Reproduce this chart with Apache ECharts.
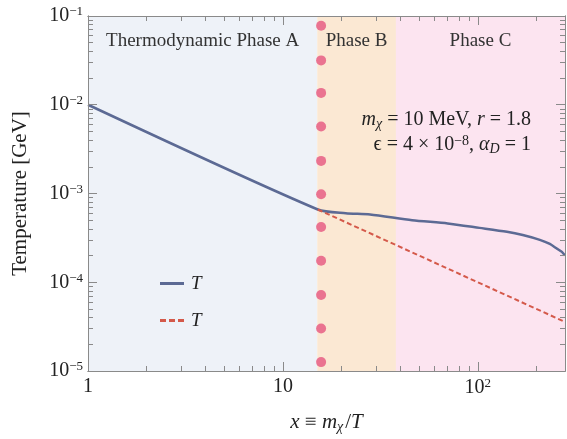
<!DOCTYPE html>
<html>
<head>
<meta charset="utf-8">
<script src="https://cdn.jsdelivr.net/npm/echarts@6/dist/echarts.min.js"></script>
<style>
  html, body { margin: 0; padding: 0; background: #fff; }
  #main { width: 567px; height: 439px; }
</style>
</head>
<body>
<div id="main"></div>
<script>
var X_MIN = 1, X_MAX = 280;
var Y_MIN = 1e-5, Y_MAX = 1e-1;

// tick positions
var xMajor = [1, 10, 100];
var xMinor = [2, 3, 4, 5, 6, 7, 8, 9, 20, 30, 40, 50, 60, 70, 80, 90, 200];
var yMajor = [1e-5, 1e-4, 1e-3, 1e-2, 1e-1];
var yMinor = [];
[1e-5, 1e-4, 1e-3, 1e-2].forEach(function (d) {
  for (var k = 2; k <= 9; k++) yMinor.push(k * d);
});

// phases (x ranges)
var phaseNames = ["Thermodynamic Phase A", "Phase B", "Phase C"];
var phaseEdges = [1, 15, 38, 280];
var phaseColors = ["#eef2f8", "#fbe8d3", "#fce4f0"];

// T (solid)
var blueX = [1, 15.1, 21, 28, 46, 70, 102, 141, 170, 208, 234, 254, 270, 280];
var blueT = [1.0e-2, 6.6e-4, 6.0e-4, 5.8e-4, 5.0e-4, 4.6e-4, 4.1e-4, 3.7e-4, 3.4e-4, 3.0e-4, 2.7e-4, 2.4e-4, 2.2e-4, 2.0e-4];

// T (dashed)
var redX = [15.1, 280];
var redT = [6.6e-4, 3.57e-5];

// dotted marker column
var dotX = 15.7;
var dotT = [0.0775, 0.0316, 0.0136, 0.0057, 0.00233, 0.00098, 0.00042, 0.000175, 0.0000718, 0.0000301, 0.0000126];

var serif = "'Liberation Serif', 'DejaVu Serif', serif";
var frameColor = "#8a8a8a";
var ink = "#222";

function pairs(xs, ys) {
  return xs.map(function (x, i) { return [x, ys[i]]; });
}

var supRich = {
  b: { fontFamily: serif, fontSize: 20, color: ink },
  s: { fontFamily: serif, fontSize: 13, color: ink, verticalAlign: "top", padding: [0, 0, 8, 0] }
};

function xAx(pos, ticks, len, withLabel) {
  return {
    type: "log", position: pos, min: X_MIN, max: X_MAX, logBase: 10, z: 10,
    axisLine: { show: true, lineStyle: { color: frameColor, width: 1 } },
    axisTick: { show: true, inside: true, length: len, customValues: ticks, lineStyle: { color: frameColor } },
    axisLabel: withLabel ? {
      show: true, margin: 6, customValues: xMajor,
      formatter: function (v) {
        var e = Math.round(Math.log10(v));
        if (e === 0) return "{b|1}";
        if (e === 1) return "{b|10}";
        return "{b|10}{s|" + e + "}";
      },
      rich: supRich
    } : { show: false },
    splitLine: { show: false }
  };
}

function yAx(pos, ticks, len, withLabel) {
  return {
    type: "log", position: pos, min: Y_MIN, max: Y_MAX, logBase: 10, z: 10,
    axisLine: { show: true, lineStyle: { color: frameColor, width: 1 } },
    axisTick: { show: true, inside: true, length: len, customValues: ticks, lineStyle: { color: frameColor } },
    axisLabel: withLabel ? {
      show: true, margin: 5, customValues: yMajor,
      formatter: function (v) {
        var e = Math.round(Math.log10(v));
        return "{b|10}{s|\u2212" + (-e) + "}";
      },
      rich: supRich
    } : { show: false },
    splitLine: { show: false }
  };
}

var chart = echarts.init(document.getElementById("main"));

var xMain = xAx("bottom", xMajor, 9, true);
xMain.name = "{i|x} \u2261 {i|m}{sub|\u03c7}/{i|T}";
xMain.nameLocation = "middle";
xMain.nameGap = 40;
xMain.nameTextStyle = {
  fontFamily: serif, fontSize: 21, color: ink,
  rich: {
    i: { fontFamily: serif, fontSize: 21, fontStyle: "italic", color: ink },
    sub: { fontFamily: serif, fontSize: 14, fontStyle: "italic", color: ink, verticalAlign: "bottom", padding: [9, 2, 0, 0] }
  }
};

var yMain = yAx("left", yMajor, 9, true);
yMain.name = "Temperature [GeV]";
yMain.nameLocation = "middle";
yMain.nameGap = 57;
yMain.nameTextStyle = { fontFamily: serif, fontSize: 21, color: ink };

var markAreaData = phaseNames.map(function (n, i) {
  return [
    { name: n, xAxis: phaseEdges[i], itemStyle: { color: phaseColors[i] } },
    { xAxis: phaseEdges[i + 1] }
  ];
});

var lineIcon = "path://M0,0h24v3h-24z";
var dashIcon = "path://M0,0h6v3h-6z M9,0h6v3h-6z M18,0h6v3h-6z";

var option = {
  animation: false,
  backgroundColor: "#fff",
  grid: { left: 88, right: 2, top: 16, bottom: 63, containLabel: false },
  xAxis: [
    xMain,
    xAx("bottom", xMinor, 5, false),
    xAx("top", xMajor, 9, false),
    xAx("top", xMinor, 5, false)
  ],
  yAxis: [
    yMain,
    yAx("left", yMinor, 5, false),
    yAx("right", yMajor, 9, false),
    yAx("right", yMinor, 5, false)
  ],
  legend: {
    orient: "vertical",
    left: 155, top: 269,
    itemWidth: 24, itemHeight: 3, itemGap: 18,
    data: [
      { name: "Tsolid", icon: lineIcon },
      { name: "Tdashed", icon: dashIcon }
    ],
    formatter: function () { return "T"; },
    textStyle: { fontFamily: serif, fontSize: 19, fontStyle: "italic", color: ink, padding: [0, 0, 0, 2] }
  },
  graphic: [
    {
      type: "text", right: 36, top: 110, z: 20,
      style: {
        text: "{i|m}{sub|\u03c7} = 10 MeV, {i|r} = 1.8",
        fontFamily: serif, fontSize: 20, fill: ink,
        rich: {
          i: { fontFamily: serif, fontSize: 20, fontStyle: "italic", fill: ink },
          sub: { fontFamily: serif, fontSize: 14, fontStyle: "italic", fill: ink, verticalAlign: "bottom", padding: [8, 0, 0, 0] }
        }
      }
    },
    {
      type: "text", right: 36, top: 134, z: 20,
      style: {
        text: "\u03f5 = 4 \u00d7 10{sup|\u22128}, {i|\u03b1}{sub|D} = 1",
        fontFamily: serif, fontSize: 20, fill: ink,
        rich: {
          i: { fontFamily: serif, fontSize: 20, fontStyle: "italic", fill: ink },
          sup: { fontFamily: serif, fontSize: 14, fill: ink, verticalAlign: "top", padding: [0, 0, 8, 0] },
          sub: { fontFamily: serif, fontSize: 14, fontStyle: "italic", fill: ink, verticalAlign: "bottom", padding: [8, 0, 0, 0] }
        }
      }
    }
  ],
  series: [
    {
      name: "phases", type: "line", data: [], silent: true,
      markArea: {
        silent: true,
        label: {
          show: true, position: "insideTop", distance: 16,
          fontFamily: serif, fontSize: 19, color: "#333"
        },
        data: markAreaData
      }
    },
    {
      name: "dots", type: "scatter", symbol: "circle", symbolSize: 10, z: 3,
      itemStyle: { color: "#ea7390", opacity: 1 },
      data: dotT.map(function (t) { return [dotX, t]; })
    },
    {
      name: "Tsolid", type: "line", symbol: "none", smooth: 0.25, z: 4,
      lineStyle: { color: "#5c6a94", width: 2.5 },
      itemStyle: { color: "#5c6a94" },
      data: pairs(blueX, blueT)
    },
    {
      name: "Tdashed", type: "line", symbol: "none", z: 5,
      lineStyle: { color: "#d4594a", width: 2, type: [5, 3] },
      itemStyle: { color: "#d4594a" },
      data: pairs(redX, redT)
    }
  ]
};

chart.setOption(option);
</script>
</body>
</html>
